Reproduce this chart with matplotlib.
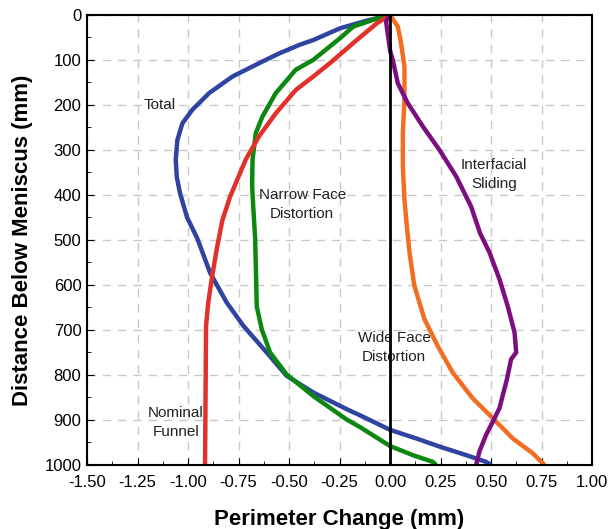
import matplotlib.pyplot as plt
from matplotlib.ticker import MultipleLocator

plt.rcParams['font.family'] = ['Liberation Sans', 'DejaVu Sans']

# curves: (perimeter change, distance below meniscus)
total_x = [0.0, -0.132, -0.248, -0.38, -0.45, -0.545, -0.615, -0.78, -0.896, -0.979, -1.028, -1.053,
           -1.061, -1.056, -1.04, -1.005, -0.955, -0.891, -0.809, -0.726, -0.611, -0.512, -0.38,
           -0.215, -0.152, 0.0, 0.129, 0.244, 0.376, 0.475, 0.5]
total_y = [0, 15, 30, 56, 67, 85, 100, 137, 174, 211, 241, 278,
           322, 360, 396, 450, 496, 573, 639, 691, 750, 802, 839,
           876, 889, 922, 941, 959, 978, 993, 1000]

narrow_x = [0.0, -0.083, -0.182, -0.248, -0.38, -0.467, -0.566, -0.632, -0.665, -0.681, -0.683, -0.677,
            -0.668, -0.66, -0.635, -0.594, -0.512, -0.38, -0.215, -0.152, 0.0, 0.112, 0.211, 0.228]
narrow_y = [0, 11, 26, 52, 100, 122, 174, 226, 263, 322, 380, 430,
            496, 648, 699, 750, 799, 847, 899, 915, 958, 978, 993, 1000]

funnel_x = [0.0, -0.066, -0.165, -0.297, -0.38, -0.467, -0.566, -0.649, -0.715, -0.743, -0.792, -0.83,
            -0.858, -0.883, -0.9, -0.911, -0.916]
funnel_y = [0, 19, 56, 107, 137, 167, 219, 270, 322, 352, 404, 456,
            520, 587, 639, 691, 1000]

wide_x = [0.0, 0.005, 0.038, 0.054, 0.071, 0.071, 0.063, 0.063, 0.071, 0.083, 0.096, 0.12,
          0.17, 0.236, 0.31, 0.409, 0.508, 0.607, 0.706, 0.764]
wide_y = [0, 4, 26, 63, 115, 189, 263, 337, 411, 470, 528, 602,
          676, 736, 795, 852, 896, 941, 974, 1000]

sliding_x = [0.0, -0.02, -0.012, 0.0, 0.013, 0.038, 0.087, 0.162, 0.244, 0.327, 0.401, 0.445, 0.492,
             0.541, 0.582, 0.616, 0.624, 0.599, 0.578, 0.541, 0.508, 0.475, 0.442, 0.426]
sliding_y = [0, 15, 41, 80, 100, 152, 196, 248, 300, 359, 426, 485, 528,
             587, 647, 706, 750, 765, 810, 874, 904, 933, 970, 1000]

fig = plt.figure(figsize=(6.13, 5.29), dpi=100)
ax = fig.add_axes([0.142, 0.121, 0.824, 0.851])

ax.plot(total_x, total_y, color='#2f43a0', lw=3.2, solid_capstyle='butt')
ax.plot(narrow_x, narrow_y, color='#0c870f', lw=3.2, solid_capstyle='butt')
ax.plot(funnel_x, funnel_y, color='#e2312a', lw=3.2, solid_capstyle='butt')
ax.plot(wide_x, wide_y, color='#f26d21', lw=3.2, solid_capstyle='butt')
ax.plot(sliding_x, sliding_y, color='#7c0f7f', lw=3.2, solid_capstyle='butt')
ax.axvline(0, color='black', lw=2, zorder=5)

ax.set_xlim(-1.5, 1.0)
ax.set_ylim(1000, 0)
ax.xaxis.set_major_locator(MultipleLocator(0.25))
ax.xaxis.set_minor_locator(MultipleLocator(0.125))
ax.yaxis.set_major_locator(MultipleLocator(100))
ax.yaxis.set_minor_locator(MultipleLocator(50))
ax.xaxis.set_major_formatter(plt.FuncFormatter(lambda v, p: f'{v:.2f}'))
ax.tick_params(which='both', direction='in', labelsize=12, top=False, right=False)
ax.tick_params(which='major', length=5)
ax.tick_params(which='minor', length=3)
ax.tick_params(axis='x', which='major', pad=7)
ax.tick_params(axis='y', which='major', pad=4)
ax.grid(True, which='major', color='#c8c8c8', ls=(0, (6, 5)), lw=1)
ax.set_axisbelow(True)
for s in ax.spines.values():
    s.set_linewidth(1.5)

ax.set_xlabel('Perimeter Change (mm)', fontsize=16, fontweight='bold', labelpad=14)
ax.set_ylabel('Distance Below Meniscus (mm)', fontsize=16, fontweight='bold', labelpad=8)

lab = dict(fontsize=11, ha='center', va='center', color='#222222', linespacing=1.45)
ax.text(-1.14, 200, 'Total', **lab)
ax.text(-0.435, 422, 'Narrow Face\nDistortion', **lab)
ax.text(0.515, 355, 'Interfacial\nSliding', **lab)
ax.text(0.02, 738, 'Wide Face\nDistortion', **lab)
ax.text(-1.06, 905, 'Nominal\nFunnel', **lab)

fig.savefig('out.png', dpi=100)
